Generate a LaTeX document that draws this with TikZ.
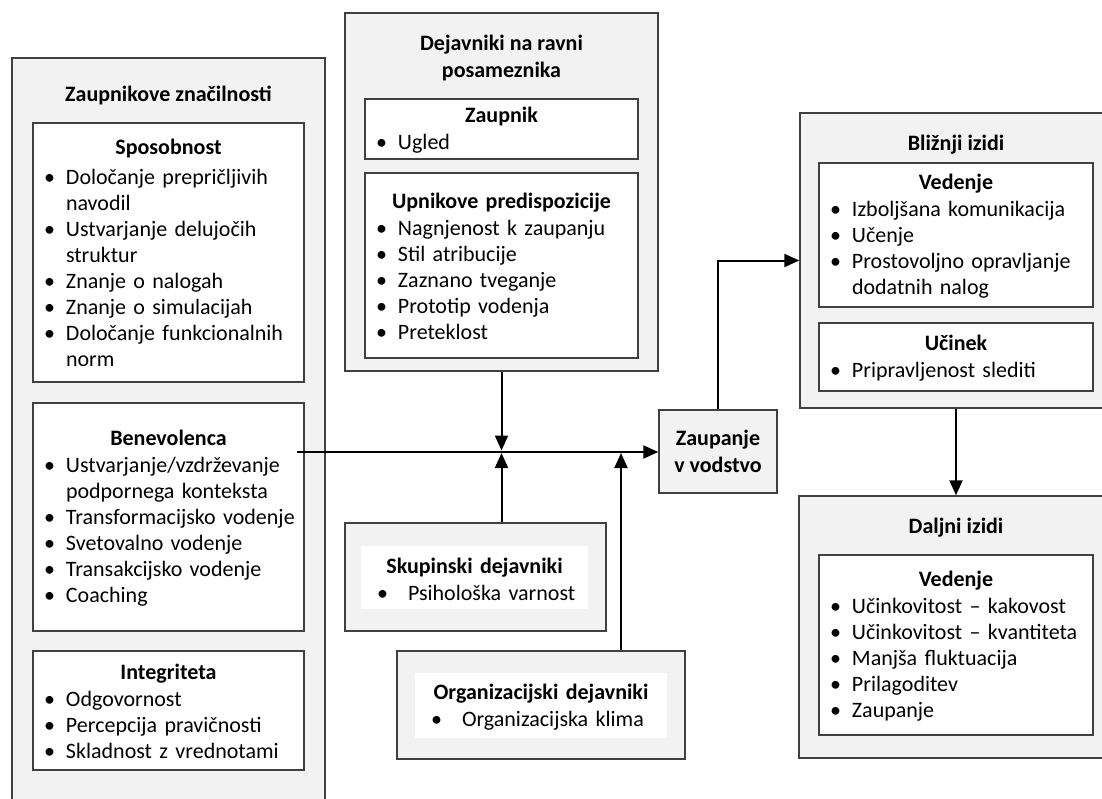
\documentclass[tikz,border=0pt]{standalone}
\usepackage{fontspec}
\setmainfont{Carlito}
\usetikzlibrary{arrows.meta}

\definecolor{groupfill}{HTML}{F2F2F2}
\definecolor{edge}{HTML}{404040}

% list helpers for the panel contents: one paragraph per printed line
\newlength\bulletgap
\setlength\bulletgap{25pt}
\newcommand\hd[1]{\par{\noindent\centering\textbf{#1}\par}\vspace{1pt}}
\newcommand\itm[1]{\par\noindent\makebox[\bulletgap][l]{\hspace{3pt}\textbullet}\mbox{#1}\par}
\newcommand\cnt[1]{\par\noindent\hspace*{\bulletgap}\mbox{#1}\par}
\newcommand\wideitm[1]{\par\noindent\makebox[33pt][l]{\hspace{2pt}\textbullet}\mbox{#1}\par}

\tikzset{
  x=1pt, y=-1pt,
  every node/.style={font=\fontsize{22}{26}\selectfont},
  group/.style={draw=edge, fill=groupfill, line width=1.4pt, rectangle, inner sep=0pt},
  panel/.style={draw=edge, fill=white, line width=1.4pt, rectangle,
                inner xsep=8pt, inner ysep=0pt, text width=#1, align=left,
                execute at end node={\par\vspace{9pt}}},
  slim/.style={inner ysep=-6pt},
  plainpanel/.style={fill=white, rectangle, inner xsep=14pt, inner ysep=0pt,
                text width=#1, align=left,
                execute at end node={\par\vspace{7pt}}},
  title/.style={inner sep=0pt, align=center, font=\fontsize{22}{27}\selectfont\bfseries},
  link/.style={line width=2pt, -{Triangle[length=15pt,width=13pt]}},
}

\begin{document}
\begin{tikzpicture}
\useasboundingbox (0,0) rectangle (1102,798);
\begin{scope}
\clip (0,0) rectangle (1102,798);

% trustee characteristics
\node[group, minimum width=313, minimum height=752] (L) at (168.5,434) {};
\node[title] (Lt) at (168.5,95) {Zaupnikove značilnosti};
\node[panel=255, minimum width=271, minimum height=259] (sp) at (168.5,252.5)
  {\hd{Sposobnost}\vspace{3pt}\itm{Določanje prepričljivih}\cnt{navodil}\itm{Ustvarjanje delujočih}\cnt{struktur}\itm{Znanje o nalogah}\itm{Znanje o simulacijah}\itm{Določanje funkcionalnih}\cnt{norm}};
\node[panel=255, minimum width=271, minimum height=228] (be) at (168.5,517)
  {\hd{Benevolenca}\itm{Ustvarjanje/vzdrževanje}\cnt{podpornega konteksta}\itm{Transformacijsko vodenje}\itm{Svetovalno vodenje}\itm{Transakcijsko vodenje}\itm{Coaching}};
\node[panel=255, minimum width=271, minimum height=119] (in) at (168.5,710.5)
  {\hd{Integriteta}\itm{Odgovornost}\itm{Percepcija pravičnosti}\itm{Skladnost z vrednotami}};

% individual-level factors
\node[group, minimum width=313, minimum height=358] (M) at (501.5,192) {};
\node[title] (Mt) at (501.5,58.5) {Dejavniki na ravni\\posameznika};
\node[panel=257, slim, minimum width=273, minimum height=60] (za) at (501.5,129)
  {\hd{Zaupnik}\itm{Ugled}};
\node[panel=257, minimum width=273, minimum height=185] (up) at (501.5,265.5)
  {\hd{Upnikove predispozicije}\itm{Nagnjenost k zaupanju}\itm{Stil atribucije}\itm{Zaznano tveganje}\itm{Prototip vodenja}\itm{Preteklost}};

% group and organisational factors
\node[group, minimum width=261, minimum height=108] (sk) at (475.5,577) {};
\node[plainpanel=199, minimum width=227, minimum height=63] (skin) at (474.5,577.5)
  {\hd{Skupinski dejavniki}\wideitm{Psihološka varnost}};
\node[group, minimum width=288, minimum height=108] (og) at (541,705) {};
\node[plainpanel=224, minimum width=252, minimum height=65] (ogin) at (541,705.5)
  {\hd{Organizacijski dejavniki}\wideitm{Organizacijska klima}};

% trust in leadership
\node[group, minimum width=118, minimum height=83, title] (zv) at (718,451.5) {Zaupanje\\v vodstvo};

% proximal outcomes
\node[group, minimum width=315, minimum height=295] (B) at (957.5,260.5) {};
\node[title] (Bt) at (956,145) {Bližnji izidi};
\node[panel=258, minimum width=274, minimum height=136] (v1) at (956,235)
  {\hd{Vedenje}\itm{Izboljšana komunikacija}\itm{Učenje}\itm{Prostovoljno opravljanje}\cnt{dodatnih nalog}};
\node[panel=258, slim, minimum width=274, minimum height=68] (uc) at (956,357)
  {\hd{Učinek}\itm{Pripravljenost slediti}};

% distal outcomes
\node[group, minimum width=316, minimum height=262] (D) at (957,627) {};
\node[title] (Dt) at (956,528) {Daljni izidi};
\node[panel=258, minimum width=274, minimum height=180] (v2) at (956,645)
  {\hd{Vedenje}\itm{Učinkovitost – kakovost}\itm{Učinkovitost – kvantiteta}\itm{Manjša fluktuacija}\itm{Prilagoditev}\itm{Zaupanje}};

% connectors
\coordinate (bstart) at (297,452);
\coordinate (orgx) at (621,0);
\draw[link] (bstart) -- (bstart -| zv.west);
\draw[link, shorten >=1.5pt] (M.south) -- (M.south |- bstart);
\draw[link, shorten >=1pt] (M.south |- sk.north) -- (M.south |- bstart);
\draw[link, shorten >=1pt] (orgx |- og.north) -- (orgx |- bstart);
\draw[link] (zv.north) |- (B.west);
\draw[link] (v1.south |- B.south) -- (v1.south |- D.north);
\end{scope}
\end{tikzpicture}
\end{document}
